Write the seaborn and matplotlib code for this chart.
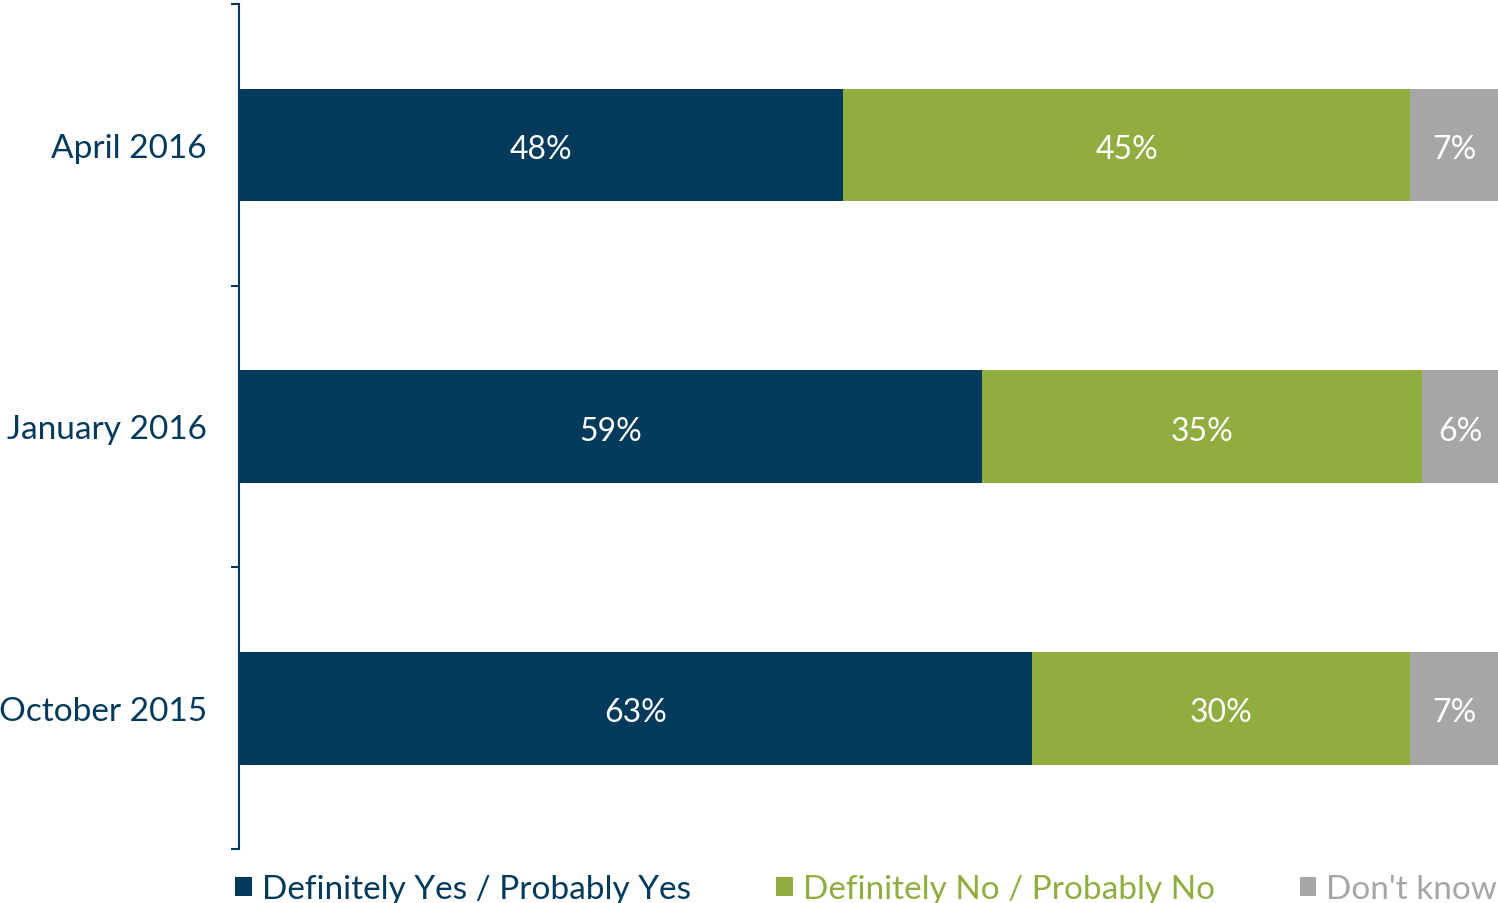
import pandas as pd
import numpy as np
import matplotlib
matplotlib.use("Agg")
import matplotlib.pyplot as plt
import seaborn as sns
from matplotlib.patches import Patch

# -----------------------------
# DATA
# -----------------------------
waves = ["April 2016", "January 2016", "October 2015"]
yes_vals = [48, 59, 63]
no_vals = [45, 35, 30]
dk_vals = [7, 6, 7]
series_names = ["Definitely Yes / Probably Yes", "Definitely No / Probably No", "Don't know"]

NAVY = "#023a5c"
GREEN = "#8fae3f"
GRAY = "#a6a6a6"
colors = [NAVY, GREEN, GRAY]

df = pd.DataFrame({"wave": waves, "yes": yes_vals, "no": no_vals, "dk": dk_vals})
df["cum_no"] = df["yes"] + df["no"]
df["cum_dk"] = df["cum_no"] + df["dk"]

# -----------------------------
# STYLE
# -----------------------------
sns.set_style("white", {"ytick.left": True})
plt.rcParams["font.family"] = ["Lato", "DejaVu Sans"]

fig = plt.figure(figsize=(14.98, 9.04), dpi=100)
ax = fig.add_axes([239 / 1498, 1 - 850 / 904, 1 - 239 / 1498, (850 - 5) / 904])

# stacked bars: draw cumulative totals back to front
for col, c in [("cum_dk", GRAY), ("cum_no", GREEN), ("yes", NAVY)]:
    sns.barplot(data=df, x=col, y="wave", order=waves, color=c, width=0.4,
                orient="h", ax=ax, saturation=1, linewidth=0)

# segment labels
for i, row in df.iterrows():
    starts = [0, row["yes"], row["cum_no"]]
    vals = [row["yes"], row["no"], row["dk"]]
    for s, v in zip(starts, vals):
        ax.text(s + v / 2, i + 0.015, f"{v}%", ha="center", va="center",
                color="white", fontsize=23)

ax.set_xlim(0, 100)
ax.set_ylim(2.5, -0.5)
ax.set_xlabel("")
ax.set_ylabel("")
ax.set_xticks([])

for side in ["top", "right", "bottom"]:
    ax.spines[side].set_visible(False)
ax.spines["left"].set_color(NAVY)
ax.spines["left"].set_linewidth(1.5)

ax.set_yticks(range(len(waves)))
ax.set_yticklabels(waves, fontsize=24, color=NAVY)
ax.tick_params(axis="y", which="major", left=False, length=0, pad=23)
ax.set_yticks([-0.5, 0.5, 1.5, 2.5], minor=True)
ax.tick_params(axis="y", which="minor", left=True, length=6, width=1.5,
               color=NAVY, direction="out")

# legend
handles = [Patch(facecolor=c, edgecolor="none") for c in colors]
leg = fig.legend(handles, series_names, loc="lower left", ncol=3,
                 bbox_to_anchor=(222 / 1498, -0.016), frameon=False,
                 fontsize=24, handlelength=0.5, handleheight=0.5,
                 handletextpad=0.3, columnspacing=2.55, borderaxespad=0)
for t, c in zip(leg.get_texts(), colors):
    t.set_color(c)

plt.savefig("out.png", dpi=100)
plt.close()
